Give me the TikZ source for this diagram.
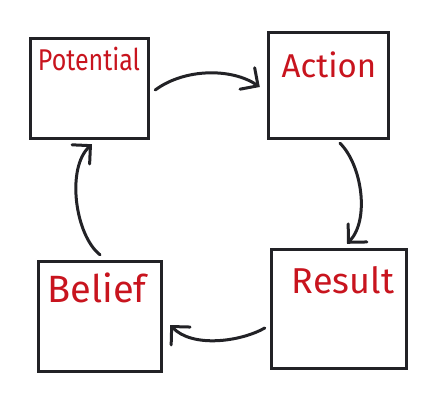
\documentclass[tikz,border=0pt]{standalone}
\usepackage{fontspec}
\setmainfont{Fira Sans}
\usetikzlibrary{arrows.meta,calc}
\definecolor{ink}{HTML}{222226}
\definecolor{marker}{HTML}{C8141E}
\tikzset{
  box/.style={draw=ink, line width=3.4pt, inner sep=0pt},
  lbl/.style={text=marker, inner sep=0pt, font=#1},
  arr/.style={draw=ink, line width=3pt, line cap=round,
    -{Straight Barb[length=13pt,width=26pt,line width=3pt,line cap=round]}},
}
\begin{document}
\begin{tikzpicture}[x=1pt,y=1pt]
\useasboundingbox (0,0) rectangle (436,400);
% boxes
\node[box, minimum width=118pt, minimum height=100pt] (pot) at (89.5,311.5) {};
\node[box, minimum width=120pt, minimum height=106pt] (act) at (328.5,314.5) {};
\node[box, minimum width=123pt, minimum height=110pt] (bel) at (100,83.5) {};
\node[box, minimum width=135pt, minimum height=119pt] (res) at (339,91) {};
% labels
\node[lbl={\fontsize{25}{25}\selectfont}] (tpot) at (89,341) {\scalebox{1}[1.2]{Potential}};
\node[lbl={\fontsize{33}{33}\selectfont}] (tact) at (329,335) {Action};
\node[lbl={\fontsize{38}{38}\selectfont}] (tbel) at (97,112) {Belief};
\node[lbl={\fontsize{36}{36}\selectfont}] (tres) at (343,120) {Result};
% connectors
\draw[arr] ([xshift=5pt,yshift=-1.5pt]pot.east) .. controls (185,332) and (232,332) .. ([xshift=-7pt,yshift=-1.5pt]act.west);
\draw[arr] ([xshift=11.5pt,yshift=-3pt]act.south) .. controls (362,235) and (370,180) .. ([xshift=8pt,yshift=4pt]res.north);
\draw[arr] ([xshift=-5pt,yshift=-19pt]res.west) .. controls (240,58) and (192,52) .. ([xshift=7pt,yshift=-8.5pt]bel.east);
\draw[arr] ([yshift=5pt]bel.north) .. controls (75,165) and (66,232) .. ([xshift=2.5pt,yshift=-4pt]pot.south);
\end{tikzpicture}
\end{document}
